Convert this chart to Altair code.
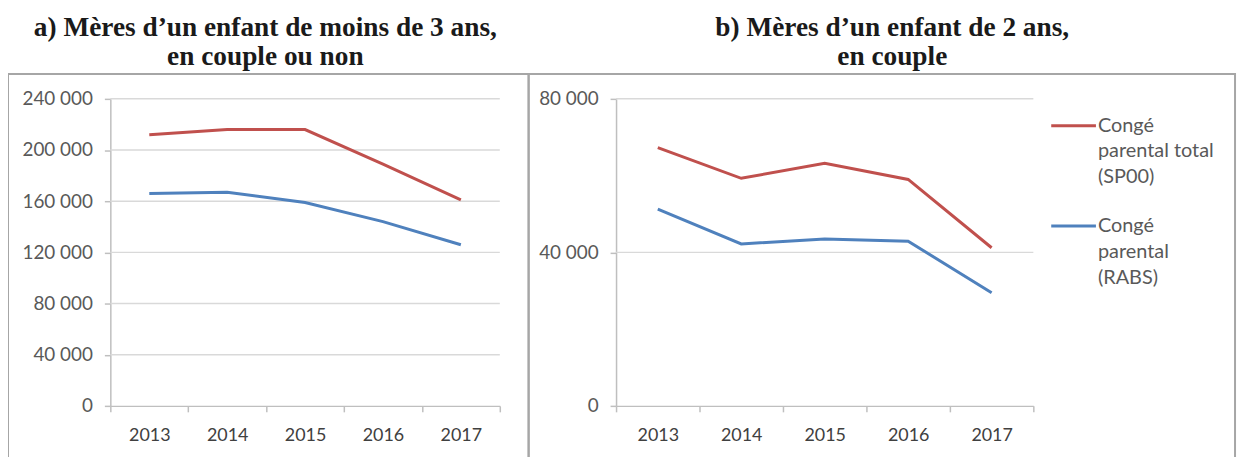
import altair as alt
import pandas as pd

# ---------------- data ----------------
years = ["2013", "2014", "2015", "2016", "2017"]
series = ["Congé parental total (SP00)", "Congé parental (RABS)"]
colors = ["#c0504d", "#4f81bd"]

a_total = [212000, 216000, 216000, 189000, 161000]
a_rabs = [166000, 167000, 159000, 144000, 126000]
b_total = [67300, 59300, 63200, 59000, 41200]
b_rabs = [51300, 42200, 43500, 42900, 29500]

ticks_a = [0, 40000, 80000, 120000, 160000, 200000, 240000]
ticks_b = [0, 40000, 80000]

title_a = ["a) Mères d’un enfant de moins de 3 ans,", "en couple ou non"]
title_b = ["b) Mères d’un enfant de 2 ans,", "en couple"]
legend_total = ["Congé", "parental total", "(SP00)"]
legend_rabs = ["Congé", "parental", "(RABS)"]


def long_df(total, rabs):
    rows = []
    for y, v in zip(years, total):
        rows.append({"year": y, "series": series[0], "value": v})
    for y, v in zip(years, rabs):
        rows.append({"year": y, "series": series[1], "value": v})
    return pd.DataFrame(rows)


one = pd.DataFrame({"k": [0]})
AXIS_COLOR = "#bfbfbf"
LABEL_FONT = "Lato"


def y_axis(ticks, xpos):
    return alt.Axis(
        orient="left", offset=-xpos, values=ticks, title=None, grid=False,
        domainColor=AXIS_COLOR, domainWidth=1.5, tickColor=AXIS_COLOR,
        tickWidth=1.5, tickSize=6, labelFont=LABEL_FONT, labelFontSize=19,
        labelColor="#595959", labelPadding=12,
        labelExpr="replace(format(datum.value, ','), ',', ' ')",
    )


def panel(df, ticks, ymax, xr):
    yscale = alt.Scale(domain=[0, ymax], range=[399, 90], nice=False, zero=True)
    grid = alt.Chart(pd.DataFrame({"v": ticks[1:]})).mark_rule(
        color="#d9d9d9", strokeWidth=1.5
    ).encode(
        y=alt.Y("v:Q", scale=yscale, axis=y_axis(ticks, xr[0])),
        x=alt.value(xr[0]),
        x2=alt.value(xr[1]),
    )
    lines = alt.Chart(df).mark_line(strokeWidth=3).encode(
        x=alt.X(
            "year:O",
            scale=alt.Scale(type="band", range=xr, paddingInner=0, paddingOuter=0),
            axis=alt.Axis(
                orient="bottom", tickBand="extent", title=None, labelAngle=0,
                domainColor=AXIS_COLOR, domainWidth=1.5, tickColor=AXIS_COLOR,
                tickWidth=1.5, tickSize=6, labelFont=LABEL_FONT, labelFontSize=18,
                labelColor="#404040", labelPadding=15,
            ),
        ),
        y=alt.Y("value:Q", scale=yscale, axis=y_axis(ticks, xr[0])),
        color=alt.Color("series:N", scale=alt.Scale(domain=series, range=colors), legend=None),
        detail="series:N",
    )
    return alt.layer(grid, lines)


def box(x0, x1):
    return alt.Chart(one).mark_rect(
        fillOpacity=0, stroke="#a6a6a6", strokeWidth=2
    ).encode(x=alt.value(x0), x2=alt.value(x1), y=alt.value(65), y2=alt.value(470))


def title(txt, x):
    return alt.Chart(one).mark_text(
        align="center", baseline="top", font="Liberation Serif", fontWeight="bold",
        fontSize=27.5, lineHeight=29, color="#1a1a1a"
    ).encode(x=alt.value(x), y=alt.value(5), text=alt.value(txt))


def legend_item(txt, color, y):
    sw = alt.Chart(one).mark_rule(color=color, strokeWidth=3).encode(
        x=alt.value(1050), x2=alt.value(1095), y=alt.value(y)
    )
    tx = alt.Chart(one).mark_text(
        align="left", baseline="top", font=LABEL_FONT, fontSize=20, lineHeight=26,
        color="#595959"
    ).encode(x=alt.value(1097), y=alt.value(y - 10), text=alt.value(txt))
    return alt.layer(sw, tx)


panel_a = panel(long_df(a_total, a_rabs), ticks_a, 240000, [103, 495])
panel_b = panel(long_df(b_total, b_rabs), ticks_b, 80000, [612, 1032])

chart = alt.layer(
    box(0, 524),
    box(524, 1235),
    title(title_a, 259),
    title(title_b, 890),
    panel_a,
    panel_b,
    legend_item(legend_total, colors[0], 117),
    legend_item(legend_rabs, colors[1], 218),
).resolve_scale(
    x="independent", y="independent"
).properties(
    width=1240,
    height=399,
    autosize=alt.AutoSizeParams(type="none"),
    padding={"left": 0, "top": 0, "right": 0, "bottom": 50},
    background="white",
).configure_view(stroke="transparent")

chart.save("out.html", embed_options={"renderer": "svg", "actions": False})
